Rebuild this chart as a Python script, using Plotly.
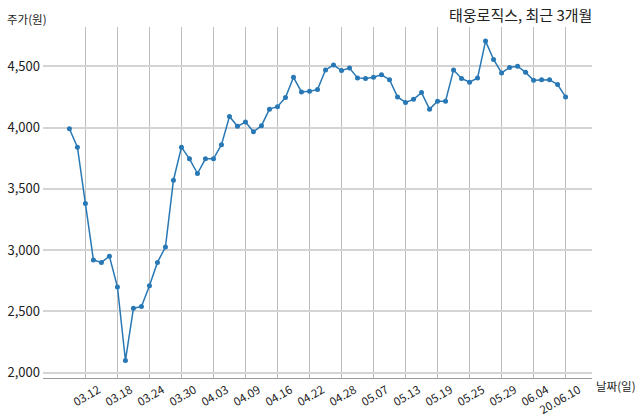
import plotly.graph_objects as go

dates = ["03.10","03.11","03.12","03.13","03.16","03.17","03.18","03.19","03.20","03.23",
         "03.24","03.25","03.26","03.27","03.30","03.31","04.01","04.02","04.03","04.06",
         "04.07","04.08","04.09","04.10","04.13","04.14","04.16","04.17","04.20","04.21",
         "04.22","04.23","04.24","04.27","04.28","04.29","05.04","05.06","05.07","05.08",
         "05.11","05.12","05.13","05.14","05.15","05.18","05.19","05.20","05.21","05.22",
         "05.25","05.26","05.27","05.28","05.29","06.01","06.02","06.03","06.04","06.05",
         "06.08","06.09","20.06.10"]
prices = [3990, 3840, 3380, 2920, 2900, 2950, 2700, 2100, 2525, 2540,
          2710, 2900, 3025, 3570, 3840, 3745, 3625, 3745, 3745, 3860,
          4090, 4010, 4045, 3965, 4015, 4150, 4170, 4245, 4410, 4290,
          4295, 4310, 4470, 4510, 4465, 4485, 4405, 4400, 4410, 4430,
          4390, 4250, 4205, 4230, 4285, 4150, 4215, 4215, 4470, 4400,
          4370, 4405, 4705, 4555, 4445, 4490, 4500, 4450, 4385, 4390,
          4390, 4350, 4250]
tick_dates = dates[2::4]
y_ticks = [2000, 2500, 3000, 3500, 4000, 4500]
y_labels = ["2,000", "2,500", "3,000", "3,500", "4,000", "4,500"]

title_text = "태웅로직스, 최근 3개월"
y_title = "주가(원)"
x_title = "날짜(일)"

FONT = "Noto Sans CJK KR"

fig = go.Figure()
fig.add_trace(go.Scatter(
    x=dates, y=prices, mode="lines+markers",
    line=dict(color="#2878b5", width=1.5),
    marker=dict(color="#2878b5", size=5),
    showlegend=False,
))

fig.update_layout(
    width=640, height=419,
    margin=dict(l=43, r=48, t=27, b=41, autoexpand=False),
    paper_bgcolor="white", plot_bgcolor="white",
    font=dict(family=FONT, color="#222222"),
    xaxis=dict(
        type="category", range=[-3.3, 65.3], automargin=False,
        tickmode="array", tickvals=tick_dates, ticktext=tick_dates,
        tickangle=-30, tickfont=dict(size=11.5, family=FONT, color="#222222"),
        ticklabelshift=13, ticklabelstandoff=0,
        showgrid=True, gridcolor="#bdbdbd", gridwidth=1,
        showline=True, linecolor="#9a9a9a", linewidth=1,
        ticks="", zeroline=False,
    ),
    yaxis=dict(
        range=[1957, 4820], automargin=False,
        tickmode="array", tickvals=y_ticks, ticktext=y_labels,
        tickfont=dict(size=13, family=FONT, color="#222222"),
        ticklabelstandoff=2,
        showgrid=True, gridcolor="#d4d4d4", gridwidth=1.5,
        showline=False, ticks="", zeroline=False,
    ),
    annotations=[
        dict(text=title_text, xref="paper", yref="paper", x=1.003, y=1.0,
             xanchor="right", yanchor="bottom", yshift=0, showarrow=False,
             font=dict(size=15, family=FONT, color="#222222")),
        dict(text=y_title, xref="paper", yref="paper", x=0, y=1.0,
             xanchor="left", yanchor="bottom", xshift=-38, yshift=-2, showarrow=False,
             font=dict(size=11.5, family=FONT, color="#222222")),
        dict(text=x_title, xref="paper", yref="paper", x=1.0, y=0,
             xanchor="left", yanchor="middle", xshift=2, yshift=-8, showarrow=False,
             font=dict(size=11.5, family=FONT, color="#222222")),
    ],
)

fig.write_html("out.html", config={"displayModeBar": False},
               post_script="document.body.style.margin='0px';document.body.style.padding='0px';")
